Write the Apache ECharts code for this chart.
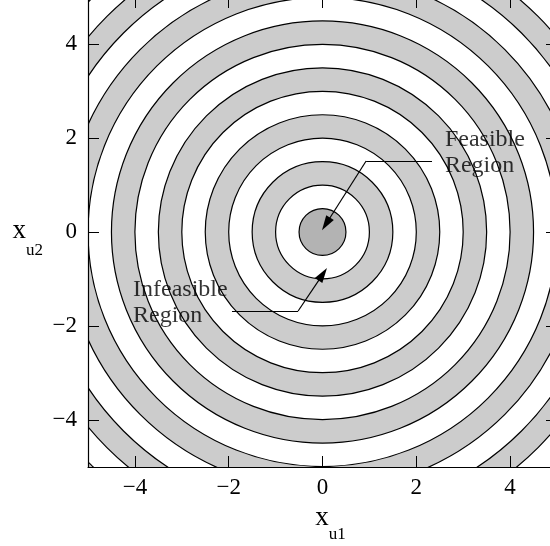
<!DOCTYPE html>
<html>
<head>
<meta charset="utf-8">
<script src="https://cdn.jsdelivr.net/npm/echarts@6.0.0/dist/echarts.min.js"></script>
<style>
  html, body { margin: 0; padding: 0; background: #fff; }
  #chart { width: 550px; height: 546px; }
</style>
</head>
<body>
<div id="chart"></div>
<script>
// Outer radius of each concentric band, outermost first
const bandOuterRadius = [7.5, 7, 6.5, 6, 5.5, 5, 4.5, 4, 3.5, 3, 2.5, 2, 1.5, 1, 0.5];
// Shading of each band
const bandShade = ['shaded', 'clear', 'shaded', 'clear', 'shaded', 'clear', 'shaded', 'clear',
                   'shaded', 'clear', 'shaded', 'clear', 'shaded', 'clear', 'feasible'];
// Axis ticks (both axes)
const tickValues = [-4, -2, 0, 2, 4];
const axisRange = [-5, 5];
// Callout texts, their anchor points and leader lines (data coordinates)
const calloutText = ['Feasible\nRegion', 'Infeasible\nRegion'];
const calloutAnchor = [[2.61, 1.68], [-4.04, -1.50]];
const feasibleLeader = [[2.335, 1.51], [0.93, 1.51], [0.075, 0.17]];
const infeasibleLeader = [[-1.93, -1.68], [-0.52, -1.68], [0.006, -0.90]];

const shadeColor = { shaded: '#cccccc', clear: '#ffffff', feasible: '#b3b3b3' };
const FONT = '"Liberation Serif", "Times New Roman", serif';
const minus = v => String(v).replace('-', '\u2212');

function leaderSegments(pts) {
  return [
    [{ coord: pts[0], symbol: 'none' }, { coord: pts[1], symbol: 'none' }],
    [{ coord: pts[1], symbol: 'none' }, { coord: pts[2], symbol: 'triangle', symbolSize: [9, 15] }]
  ];
}

const baseAxis = {
  type: 'value',
  min: axisRange[0],
  max: axisRange[1],
  z: 10,
  splitLine: { show: false },
  axisLine: { show: true, onZero: false, lineStyle: { color: '#000', width: 1.2 } },
  axisTick: { show: true, inside: true, length: 11, customValues: tickValues,
              lineStyle: { color: '#000', width: 1 } }
};

const chart = echarts.init(document.getElementById('chart'), null, { renderer: 'canvas' });
chart.setOption({
  animation: false,
  backgroundColor: '#fff',
  grid: { left: 88, right: -7, top: -3, bottom: 79, containLabel: false, outerBoundsMode: 'none' },
  xAxis: [
    Object.assign({}, baseAxis, {
      position: 'bottom',
      axisLabel: { show: true, customValues: tickValues, formatter: minus, margin: 9,
                   fontFamily: FONT, fontSize: 23, color: '#000' },
      name: '{x|x}{s|u1}',
      nameLocation: 'middle',
      nameGap: 37,
      nameTextStyle: {
        rich: {
          x: { fontFamily: FONT, fontSize: 27, color: '#000', verticalAlign: 'bottom', padding: [0, 0, 12, 16] },
          s: { fontFamily: FONT, fontSize: 17, color: '#000', verticalAlign: 'bottom' }
        }
      }
    }),
    Object.assign({}, baseAxis, { position: 'top', axisLabel: { show: false } })
  ],
  yAxis: [
    Object.assign({}, baseAxis, {
      position: 'left',
      axisLabel: { show: true, customValues: tickValues, formatter: minus, margin: 11,
                   fontFamily: FONT, fontSize: 23, color: '#000' },
      name: '{x|x}{s|u2}',
      nameLocation: 'middle',
      nameRotate: 0,
      nameGap: 45,
      nameTextStyle: {
        padding: [12, 0, 0, 0],
        rich: {
          x: { fontFamily: FONT, fontSize: 27, color: '#000', verticalAlign: 'bottom', padding: [0, 0, 15, 0] },
          s: { fontFamily: FONT, fontSize: 17, color: '#000', verticalAlign: 'bottom' }
        }
      }
    }),
    Object.assign({}, baseAxis, { position: 'right', axisLabel: { show: false } })
  ],
  series: [
    {
      // concentric bands, painted from the outside in
      type: 'custom',
      xAxisIndex: 0,
      yAxisIndex: 0,
      silent: true,
      data: bandOuterRadius.map((r, i) => [r, i]),
      renderItem: function (params, api) {
        const r = api.value(0);
        const shade = bandShade[api.value(1)];
        const c = api.coord([0, 0]);
        const s = api.size([r, r]);
        const cs = params.coordSys;
        return {
          type: 'circle',
          shape: { cx: c[0], cy: c[1], r: s[0] },
          style: { fill: shadeColor[shade], stroke: '#000', lineWidth: 1.2 },
          clipPath: { type: 'rect', shape: { x: cs.x, y: cs.y, width: cs.width, height: cs.height } }
        };
      }
    },
    {
      // callout texts with leader arrows
      type: 'scatter',
      xAxisIndex: 0,
      yAxisIndex: 0,
      silent: true,
      z: 5,
      symbolSize: 0,
      data: calloutAnchor.map((p, i) => [p[0], p[1], calloutText[i]]),
      label: {
        show: true,
        position: 'inside',
        align: 'left',
        verticalAlign: 'middle',
        formatter: p => p.data[2],
        fontFamily: FONT,
        fontSize: 24,
        lineHeight: 26,
        color: '#000'
      },
      markLine: {
        silent: true,
        animation: false,
        symbol: ['none', 'none'],
        label: { show: false },
        lineStyle: { color: '#000', width: 1.2, type: 'solid' },
        itemStyle: { color: '#000' },
        emphasis: { disabled: true },
        data: leaderSegments(feasibleLeader).concat(leaderSegments(infeasibleLeader))
      }
    }
  ]
});
</script>
</body>
</html>
